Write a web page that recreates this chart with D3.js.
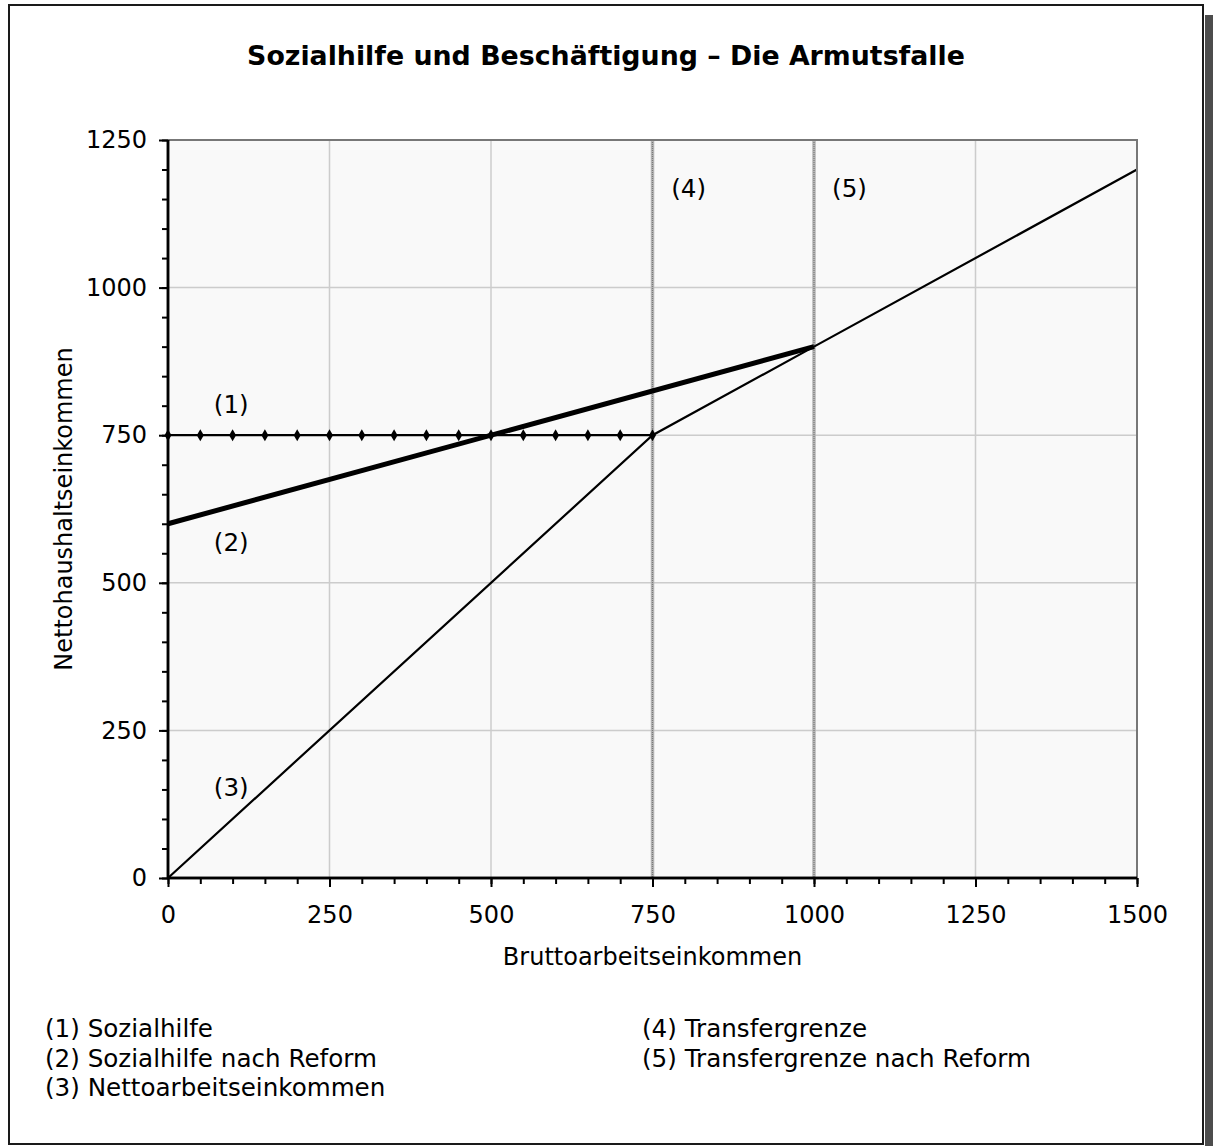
<!DOCTYPE html>
<html>
<head>
<meta charset="utf-8">
<script src="https://cdn.jsdelivr.net/npm/d3@7"></script>
<style>
  html, body { margin: 0; padding: 0; background: #ffffff; }
  svg { display: block; font-family: "DejaVu Sans", Verdana, sans-serif; }
</style>
</head>
<body>
<svg id="chart" width="1213" height="1146"></svg>
<script>
// ---- data ----
const title = "Sozialhilfe und Beschäftigung – Die Armutsfalle";
const xTitle = "Bruttoarbeitseinkommen";
const yTitle = "Nettohaushaltseinkommen";
const xTicks = [0, 250, 500, 750, 1000, 1250, 1500];
const yTicks = [0, 250, 500, 750, 1000, 1250];

// (1) Sozialhilfe
const sozialX = [0, 50, 100, 150, 200, 250, 300, 350, 400, 450, 500, 550, 600, 650, 700, 750];
const sozialY = [750, 750, 750, 750, 750, 750, 750, 750, 750, 750, 750, 750, 750, 750, 750, 750];
// (2) Sozialhilfe nach Reform
const reformX = [0, 1000];
const reformY = [600, 900];
// (3) Nettoarbeitseinkommen
const nettoX = [0, 750, 1000, 1500];
const nettoY = [0, 750, 900, 1200];
// (4) Transfergrenze, (5) Transfergrenze nach Reform
const grenzen = [750, 1000];

const curveLabels = [
  { text: "(1)", x: 71, y: 788 },
  { text: "(2)", x: 71, y: 554 },
  { text: "(3)", x: 71, y: 139 },
  { text: "(4)", x: 779, y: 1153 },
  { text: "(5)", x: 1028, y: 1153 }
];
const legendLeft = ["(1) Sozialhilfe", "(2) Sozialhilfe nach Reform", "(3) Nettoarbeitseinkommen"];
const legendRight = ["(4) Transfergrenze", "(5) Transfergrenze nach Reform"];

// ---- layout ----
const svg = d3.select("#chart");
const plot = { left: 168, right: 1137, top: 140, bottom: 878 };
const x = d3.scaleLinear().domain([0, 1500]).range([plot.left, plot.right]);
const y = d3.scaleLinear().domain([0, 1250]).range([plot.bottom, plot.top]);
const FS = 24;
const FS2 = 24.6;

// shadow + frame
svg.append("rect").attr("x", 1205).attr("y", 15).attr("width", 20).attr("height", 1200).attr("fill", "#4d4d4d");
svg.append("rect").attr("x", 9).attr("y", 5).attr("width", 1194).attr("height", 1139)
  .attr("fill", "#ffffff").attr("stroke", "#1a1a1a").attr("stroke-width", 2);

// title
svg.append("text").attr("x", 606).attr("y", 65).attr("text-anchor", "middle")
  .attr("font-size", 26.8).attr("font-weight", "bold").attr("fill", "#000").text(title);

// plot background
svg.append("rect").attr("x", plot.left).attr("y", plot.top)
  .attr("width", plot.right - plot.left).attr("height", plot.bottom - plot.top)
  .attr("fill", "#f9f9f9");

// grid
const grid = svg.append("g");
grid.selectAll("line.gx").data(xTicks.filter(d => d > 0 && d < 1500)).enter().append("line")
  .attr("x1", d => x(d)).attr("x2", d => x(d)).attr("y1", plot.top).attr("y2", plot.bottom)
  .attr("stroke", "#cccccc").attr("stroke-width", 1.5);
grid.selectAll("line.gy").data(yTicks.filter(d => d > 0 && d < 1250)).enter().append("line")
  .attr("x1", plot.left).attr("x2", plot.right).attr("y1", d => y(d)).attr("y2", d => y(d))
  .attr("stroke", "#cccccc").attr("stroke-width", 1.5);

// Transfergrenzen (vertical textured lines)
const vg = svg.append("g");
vg.selectAll("line.v1").data(grenzen).enter().append("line")
  .attr("x1", d => x(d)).attr("x2", d => x(d)).attr("y1", plot.top).attr("y2", plot.bottom)
  .attr("stroke", "#b4b4b4").attr("stroke-width", 3.5);
vg.selectAll("line.v2").data(grenzen).enter().append("line")
  .attr("x1", d => x(d)).attr("x2", d => x(d)).attr("y1", plot.top).attr("y2", plot.bottom)
  .attr("stroke", "#7a7a7a").attr("stroke-width", 1.2).attr("stroke-dasharray", "1,1");

// lines
const line = d3.line().x(d => x(d[0])).y(d => y(d[1]));
const sozial = sozialX.map((v, i) => [v, sozialY[i]]);
const reform = reformX.map((v, i) => [v, reformY[i]]);
const netto = nettoX.map((v, i) => [v, nettoY[i]]);

svg.append("path").datum(netto).attr("d", line).attr("fill", "none")
  .attr("stroke", "#000").attr("stroke-width", 2.2);
svg.append("path").datum(sozial).attr("d", line).attr("fill", "none")
  .attr("stroke", "#000").attr("stroke-width", 2.2);
svg.append("path").datum(reform).attr("d", line).attr("fill", "none")
  .attr("stroke", "#000").attr("stroke-width", 5);

// diamond markers
svg.selectAll("path.mk").data(sozial).enter().append("path")
  .attr("d", d3.symbol().type(d3.symbolDiamond).size(42))
  .attr("transform", d => `translate(${x(d[0])},${y(d[1])})`)
  .attr("fill", "#000");

// plot top/right border
svg.append("path")
  .attr("d", `M${plot.left},${plot.top}H${plot.right}V${plot.bottom}`)
  .attr("fill", "none").attr("stroke", "#777777").attr("stroke-width", 2);

// axes
const minorX = d3.range(0, 1501, 50);
const minorY = d3.range(0, 1251, 50);
const xMinor = svg.append("g").attr("transform", `translate(0,${plot.bottom})`)
  .call(d3.axisBottom(x).tickValues(minorX).tickSize(6).tickFormat(""));
const yMinor = svg.append("g").attr("transform", `translate(${plot.left},0)`)
  .call(d3.axisLeft(y).tickValues(minorY).tickSize(6).tickFormat(""));
const xAxis = svg.append("g").attr("transform", `translate(0,${plot.bottom})`)
  .call(d3.axisBottom(x).tickValues(xTicks).tickSize(9).tickPadding(19).tickFormat(d3.format("d")));
const yAxis = svg.append("g").attr("transform", `translate(${plot.left},0)`)
  .call(d3.axisLeft(y).tickValues(yTicks).tickSize(9).tickPadding(12).tickFormat(d3.format("d")));

[xMinor, yMinor, xAxis, yAxis].forEach(g => {
  g.select(".domain").attr("stroke", "#000").attr("stroke-width", 2.5);
  g.selectAll(".tick line").attr("stroke", "#000").attr("stroke-width", 2);
  g.selectAll(".tick text").attr("font-size", FS).attr("fill", "#000")
    .attr("font-family", "DejaVu Sans, Verdana, sans-serif");
});
xMinor.select(".domain").attr("d", `M${plot.left},0H${plot.right}`);
yMinor.select(".domain").attr("d", `M0,${plot.bottom}V${plot.top}`);
xAxis.select(".domain").attr("d", `M${plot.left - 1},0H${plot.right}`);
yAxis.select(".domain").attr("d", `M0,${plot.bottom + 1}V${plot.top}`);

// axis titles
svg.append("text").attr("x", (plot.left + plot.right) / 2).attr("y", 965)
  .attr("text-anchor", "middle").attr("font-size", FS).attr("fill", "#000").text(xTitle);
svg.append("text").attr("transform", `translate(72,${(plot.top + plot.bottom) / 2}) rotate(-90)`)
  .attr("text-anchor", "middle").attr("font-size", FS).attr("fill", "#000").text(yTitle);

// curve labels
svg.selectAll("text.cl").data(curveLabels).enter().append("text")
  .attr("x", d => x(d.x)).attr("y", d => y(d.y))
  .attr("font-size", FS2).attr("fill", "#000").text(d => d.text);

// legend
svg.selectAll("text.ll").data(legendLeft).enter().append("text")
  .attr("x", 45).attr("y", (d, i) => 1037 + i * 29.5)
  .attr("font-size", FS2).attr("fill", "#000").text(d => d);
svg.selectAll("text.lr").data(legendRight).enter().append("text")
  .attr("x", 642).attr("y", (d, i) => 1037 + i * 29.5)
  .attr("font-size", FS2).attr("fill", "#000").text(d => d);
</script>
</body>
</html>
